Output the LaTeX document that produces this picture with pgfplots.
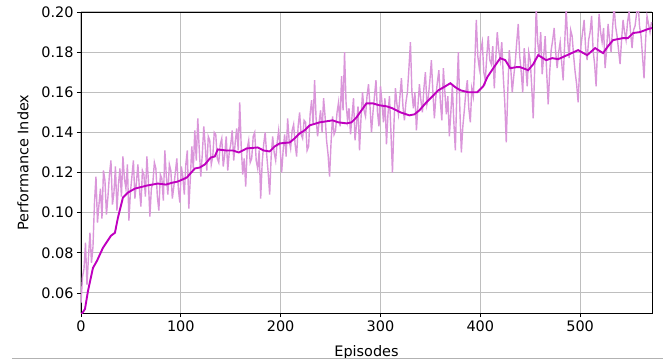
\documentclass[border=0pt]{standalone}
\usepackage{pgfplots}
\pgfplotsset{compat=1.18}
\usepackage{fontspec}
\setmainfont{DejaVu Sans}
\definecolor{smoothc}{RGB}{191,0,191}
\definecolor{noisyc}{RGB}{218,150,218}
\definecolor{gridc}{RGB}{190,190,190}
\pgfplotstableread{
x y
0 0.055
1.5 0.068
3 0.072
4.5 0.085
6 0.064
7.5 0.078
9 0.090
10.5 0.075
12 0.083
13.5 0.105
15 0.118
16.5 0.095
18 0.104
19.5 0.112
21 0.097
22.5 0.121
24 0.116
25.5 0.099
27 0.108
28.5 0.119
30 0.126
31.5 0.104
33 0.110
34.5 0.123
36 0.101
37.5 0.114
39 0.122
40.5 0.108
42 0.128
43.5 0.117
45 0.112
46.5 0.124
48 0.096
49.5 0.110
51 0.118
52.5 0.126
54 0.107
55.5 0.115
57 0.124
58.5 0.112
60 0.103
61.5 0.121
63 0.119
64.5 0.108
66 0.128
67.5 0.116
69 0.098
70.5 0.112
72 0.115
73.5 0.125
75 0.122
76.5 0.108
78 0.101
79.5 0.119
81 0.117
82.5 0.106
84 0.131
85.5 0.118
87 0.109
88.5 0.124
90 0.121
91.5 0.107
93 0.113
94.5 0.120
96 0.127
97.5 0.112
99 0.105
100.5 0.123
102 0.118
103.5 0.109
105 0.124
106.5 0.131
108 0.102
109.5 0.117
111 0.133
112.5 0.122
114 0.141
115.5 0.126
117 0.147
118.5 0.131
120 0.118
121.5 0.129
123 0.143
124.5 0.133
126 0.121
127.5 0.138
129 0.136
130.5 0.124
132 0.128
133.5 0.140
135 0.139
136.5 0.127
138 0.125
139.5 0.134
141 0.137
142.5 0.123
144 0.129
145.5 0.138
147 0.121
148.5 0.130
150 0.134
151.5 0.141
153 0.126
154.5 0.135
156 0.142
157.5 0.131
159 0.155
160.5 0.133
162 0.119
163.5 0.127
165 0.113
166.5 0.132
168 0.136
169.5 0.125
171 0.127
172.5 0.138
174 0.140
175.5 0.126
177 0.122
178.5 0.131
180 0.107
181.5 0.125
183 0.134
184.5 0.140
186 0.129
187.5 0.120
189 0.109
190.5 0.128
192 0.138
193.5 0.130
195 0.126
196.5 0.135
198 0.141
199.5 0.132
201 0.120
202.5 0.131
204 0.139
205.5 0.128
207 0.147
208.5 0.136
210 0.132
211.5 0.141
213 0.144
214.5 0.134
216 0.128
217.5 0.143
219 0.150
220.5 0.139
222 0.137
223.5 0.146
225 0.145
226.5 0.131
228 0.133
229.5 0.149
231 0.156
232.5 0.144
234 0.166
235.5 0.147
237 0.138
238.5 0.145
240 0.151
241.5 0.140
243 0.157
244.5 0.148
246 0.136
247.5 0.129
249 0.118
250.5 0.135
252 0.148
253.5 0.139
255 0.141
256.5 0.150
258 0.155
259.5 0.143
261 0.168
262.5 0.151
264 0.180
265.5 0.155
267 0.146
268.5 0.152
270 0.139
271.5 0.148
273 0.157
274.5 0.136
276 0.144
277.5 0.153
279 0.131
280.5 0.147
282 0.160
283.5 0.151
285 0.148
286.5 0.158
288 0.164
289.5 0.153
291 0.140
292.5 0.150
294 0.158
295.5 0.166
297 0.150
298.5 0.143
300 0.163
301.5 0.155
303 0.145
304.5 0.157
306 0.134
307.5 0.149
309 0.158
310.5 0.140
312 0.120
313.5 0.144
315 0.162
316.5 0.154
318 0.149
319.5 0.158
321 0.167
322.5 0.153
324 0.146
325.5 0.155
327 0.160
328.5 0.172
330 0.185
331.5 0.160
333 0.152
334.5 0.160
336 0.141
337.5 0.153
339 0.164
340.5 0.156
342 0.150
343.5 0.162
345 0.170
346.5 0.154
348 0.158
349.5 0.166
351 0.176
352.5 0.160
354 0.147
355.5 0.158
357 0.165
358.5 0.171
360 0.155
361.5 0.146
363 0.172
364.5 0.160
366 0.149
367.5 0.158
369 0.138
370.5 0.150
372 0.163
373.5 0.145
375 0.131
376.5 0.160
378 0.180
379.5 0.152
381 0.130
382.5 0.143
384 0.151
385.5 0.160
387 0.166
388.5 0.152
390 0.145
391.5 0.162
393 0.158
394.5 0.175
396 0.196
397.5 0.178
399 0.172
400.5 0.181
402 0.185
403.5 0.170
405 0.166
406.5 0.178
408 0.188
409.5 0.176
411 0.174
412.5 0.183
414 0.162
415.5 0.177
417 0.190
418.5 0.181
420 0.176
421.5 0.185
423 0.168
424.5 0.155
426 0.135
427.5 0.160
429 0.181
430.5 0.172
432 0.160
433.5 0.168
435 0.175
436.5 0.185
438 0.194
439.5 0.178
441 0.170
442.5 0.160
444 0.182
445.5 0.173
447 0.163
448.5 0.180
450 0.176
451.5 0.163
453 0.147
454.5 0.172
456 0.203
457.5 0.185
459 0.178
460.5 0.190
462 0.169
463.5 0.178
465 0.188
466.5 0.170
468 0.154
469.5 0.170
471 0.181
472.5 0.186
474 0.192
475.5 0.180
477 0.172
478.5 0.180
480 0.185
481.5 0.175
483 0.166
484.5 0.184
486 0.202
487.5 0.186
489 0.177
490.5 0.191
492 0.188
493.5 0.178
495 0.170
496.5 0.164
498 0.155
499.5 0.172
501 0.184
502.5 0.190
504 0.196
505.5 0.182
507 0.176
508.5 0.186
510 0.190
511.5 0.198
513 0.181
514.5 0.174
516 0.163
517.5 0.183
519 0.199
520.5 0.190
522 0.185
523.5 0.192
525 0.172
526.5 0.181
528 0.194
529.5 0.186
531 0.180
532.5 0.192
534 0.203
535.5 0.193
537 0.188
538.5 0.181
540 0.174
541.5 0.186
543 0.196
544.5 0.190
546 0.186
547.5 0.195
549 0.200
550.5 0.190
552 0.182
553.5 0.191
555 0.193
556.5 0.199
558 0.205
559.5 0.193
561 0.188
562.5 0.178
564 0.167
565.5 0.185
567 0.198
568.5 0.194
570 0.190
571.5 0.195
}\noisytable
\pgfplotstableread{
x y
0 0.049
4 0.052
7 0.061
12 0.0725
16 0.076
22 0.0825
30 0.0885
34 0.090
37 0.0975
42 0.1075
47 0.110
54 0.112
66 0.1135
77 0.1145
85 0.114
92 0.115
97 0.1155
106 0.1175
114 0.122
119 0.1225
124 0.124
130 0.1275
134 0.128
137 0.1315
145 0.131
152 0.131
158 0.130
166 0.132
177 0.1325
183 0.131
189 0.1305
194 0.133
199 0.1345
209 0.135
214 0.137
219 0.1395
224 0.141
229 0.1435
239 0.145
252 0.146
258 0.145
266 0.1445
271 0.145
276 0.1475
281 0.151
286 0.1545
292 0.1545
299 0.1535
306 0.153
312 0.152
320 0.150
329 0.1485
334 0.149
339 0.151
346 0.155
352 0.158
358 0.161
365 0.163
370 0.1645
375 0.1625
380 0.161
388 0.160
397 0.160
403 0.163
407 0.1675
413 0.172
420 0.177
425 0.176
430 0.172
436 0.1725
440 0.1725
448 0.171
453 0.174
458 0.1785
466 0.176
472 0.177
478 0.1765
487 0.1785
498 0.181
507 0.1785
515 0.182
523 0.1795
528 0.183
533 0.186
543 0.187
548 0.187
553 0.1895
560 0.190
568 0.1915
572 0.192
}\smoothtable
\begin{document}
\begin{tikzpicture}
\path[use as bounding box] (-81bp,-47bp) rectangle (582bp,313bp);
\begin{axis}[
  scale only axis,
  width=571bp, height=301bp,
  xmin=0, xmax=572,
  ymin=0.05, ymax=0.20,
  xtick={0,100,200,300,400,500},
  ytick={0.06,0.08,0.10,0.12,0.14,0.16,0.18,0.20},
  scaled y ticks=false,
  yticklabel style={/pgf/number format/.cd, fixed, fixed zerofill, precision=2},
  /pgf/number format/assume math mode=true,
  tick label style={font=\fontsize{14.5}{16}\selectfont},
  label style={font=\fontsize{14.5}{16}\selectfont},
  tick align=outside,
  major tick length=4bp,
  tick style={black, line width=0.8bp},
  xtick pos=bottom, ytick pos=left,
  grid=major,
  major grid style={gridc, line width=1bp},
  axis line style={black, line width=0.8bp},
  xlabel={Episodes},
  ylabel={Performance Index},
  xlabel style={at={(axis description cs:0.5,-0.13)}, anchor=center},
  ylabel style={at={(axis description cs:-0.1016,0.5)}, anchor=center},
]
\addplot[noisyc, line width=1.4bp] table[x=x,y=y] {\noisytable};
\addplot[smoothc, line width=1.9bp] table[x=x,y=y] {\smoothtable};
\end{axis}
\draw[gray!60, line width=1bp] (-69bp,-45bp) -- (582bp,-45bp);
\end{tikzpicture}
\end{document}
